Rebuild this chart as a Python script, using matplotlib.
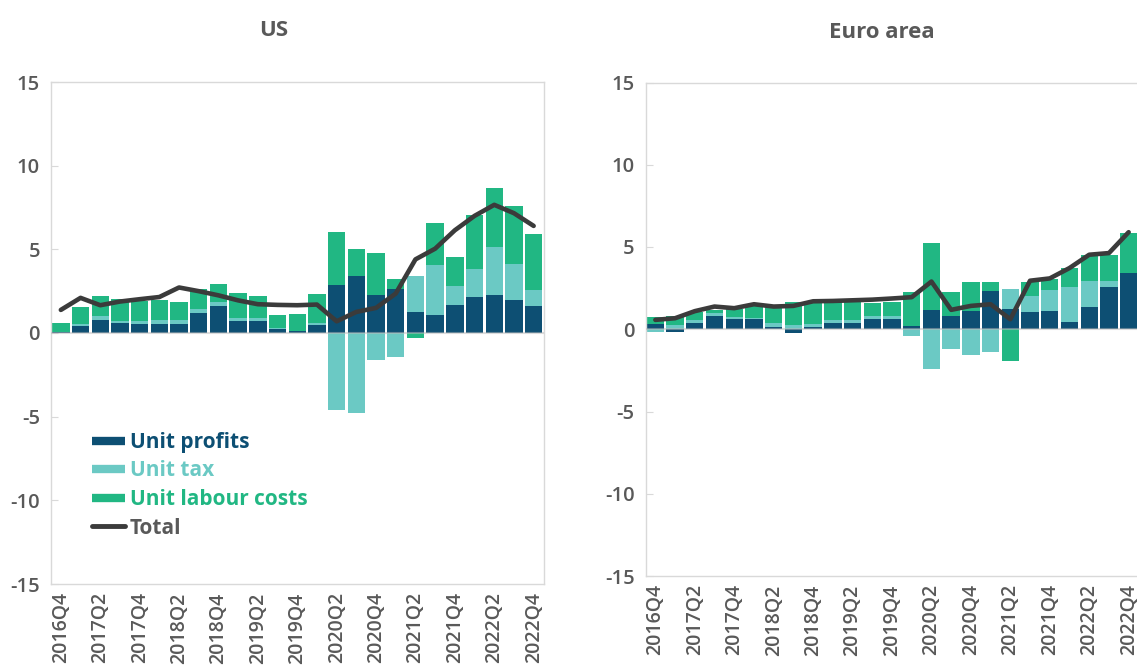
import matplotlib
matplotlib.use("Agg")
import matplotlib.pyplot as plt
import numpy as np
from matplotlib.lines import Line2D

plt.rcParams['font.family'] = ['Open Sans', 'DejaVu Sans']

quarters = ["2016Q4", "2017Q1", "2017Q2", "2017Q3", "2017Q4",
            "2018Q1", "2018Q2", "2018Q3", "2018Q4",
            "2019Q1", "2019Q2", "2019Q3", "2019Q4",
            "2020Q1", "2020Q2", "2020Q3", "2020Q4",
            "2021Q1", "2021Q2", "2021Q3", "2021Q4",
            "2022Q1", "2022Q2", "2022Q3", "2022Q4"]

us_profits = [0.03, 0.40, 0.80, 0.62, 0.54, 0.54, 0.54, 1.18, 1.60, 0.70, 0.70, 0.22, 0.10,
              0.46, 2.88, 3.40, 2.28, 2.60, 1.28, 1.06, 1.68, 2.18, 2.28, 1.96, 1.62]
us_tax = [0.05, 0.12, 0.20, 0.12, 0.18, 0.22, 0.22, 0.26, 0.24, 0.18, 0.20, 0.08, 0.04,
          0.16, -4.58, -4.78, -1.62, -1.44, 2.12, 3.02, 1.12, 1.62, 2.86, 2.16, 0.94]
us_ulc = [0.52, 1.02, 1.20, 1.32, 1.22, 1.24, 1.10, 1.16, 1.06, 1.52, 1.30, 0.80, 1.00,
          1.72, 3.14, 1.62, 2.48, 0.64, -0.30, 2.48, 1.72, 3.28, 3.52, 3.46, 3.34]
us_total = [1.38, 2.10, 1.66, 1.88, 2.02, 2.15, 2.72, 2.50, 2.25, 1.95, 1.72, 1.68, 1.66,
            1.70, 0.70, 1.26, 1.50, 2.36, 4.40, 5.04, 6.14, 7.00, 7.66, 7.16, 6.40]

ea_profits = [0.30, -0.16, 0.41, 0.79, 0.63, 0.61, 0.12, -0.24, 0.12, 0.37, 0.41, 0.63, 0.63,
              0.20, 1.20, 0.83, 1.12, 2.32, 1.22, 1.06, 1.08, 0.47, 1.38, 2.58, 3.39]
ea_tax = [-0.18, 0.26, 0.16, 0.17, 0.14, 0.10, 0.25, 0.26, 0.21, 0.18, 0.16, 0.20, 0.20,
          -0.39, -2.42, -1.18, -1.54, -1.36, 1.24, 0.97, 1.28, 2.11, 1.57, 0.33, 0.00]
ea_ulc = [0.43, 0.53, 0.45, 0.22, 0.45, 0.77, 1.01, 1.39, 1.36, 1.14, 1.12, 0.76, 0.82,
          2.06, 4.04, 1.41, 1.75, 0.57, -1.93, 0.86, 0.69, 1.16, 1.56, 1.62, 2.44]
ea_total = [0.57, 0.67, 1.10, 1.38, 1.28, 1.52, 1.38, 1.42, 1.70, 1.72, 1.76, 1.80, 1.87,
            1.95, 2.90, 1.18, 1.42, 1.52, 0.61, 2.95, 3.09, 3.72, 4.53, 4.63, 5.90]

series_names = ["Unit profits", "Unit tax", "Unit labour costs"]
colors = ["#0d4f73", "#6bc9c4", "#21b783"]
line_color = "#3b3b3b"
text_color = "#595959"
frame_color = "#d9d9d9"

W, H = 1137, 666
fig = plt.figure(figsize=(W / 100, H / 100), dpi=100)

def px_axes(l, r, t, b):
    return fig.add_axes([l / W, 1 - b / H, (r - l) / W, (b - t) / H])

ax_us = px_axes(51, 543.5, 82, 584)
ax_ea = px_axes(645.5, 1138.5, 82.5, 576)

def draw(ax, comps, total):
    x = np.arange(len(quarters))
    pos_base = np.zeros(len(x))
    neg_base = np.zeros(len(x))
    for vals, c in zip(comps, colors):
        v = np.array(vals, dtype=float)
        pos = np.where(v > 0, v, 0)
        neg = np.where(v < 0, v, 0)
        ax.bar(x, pos, bottom=pos_base, width=0.88, color=c, zorder=2, linewidth=0)
        ax.bar(x, neg, bottom=neg_base, width=0.88, color=c, zorder=2, linewidth=0)
        pos_base += pos
        neg_base += neg
    ax.axhline(0, color="#bbbbbb", lw=1.5, alpha=0.5, zorder=3)
    ax.plot(x, total, color=line_color, lw=3.3, zorder=4, solid_capstyle='round')
    ax.set_xlim(-0.5, len(x) - 0.5)
    ax.set_ylim(-15, 15)
    ax.set_yticks([-15, -10, -5, 0, 5, 10, 15])
    ax.set_yticklabels([str(v) for v in [-15, -10, -5, 0, 5, 10, 15]])
    ax.set_xticks(x[::2])
    ax.set_xticklabels(quarters[::2], rotation=90)
    ax.tick_params(axis='y', direction='in', length=5, width=0.8, color=frame_color,
                   labelsize=14.5, labelcolor=text_color, pad=8)
    ax.tick_params(axis='x', length=0, labelsize=14, labelcolor=text_color, pad=6)
    for lab in ax.get_yticklabels() + ax.get_xticklabels():
        lab.set_fontweight('semibold')
    for s in ax.spines.values():
        s.set_color(frame_color)
        s.set_linewidth(1.0)

draw(ax_us, [us_profits, us_tax, us_ulc], us_total)
draw(ax_ea, [ea_profits, ea_tax, ea_ulc], ea_total)

fig.text(274 / W, 1 - 30 / H, "US", ha='center', va='center', fontsize=16,
         fontweight='bold', color=text_color)
fig.text(882 / W, 1 - 32 / H, "Euro area", ha='center', va='center', fontsize=16,
         fontweight='bold', color=text_color)

handles = [Line2D([0], [0], color=c, lw=6, solid_capstyle='butt') for c in colors]
handles.append(Line2D([0], [0], color=line_color, lw=3.5, solid_capstyle='round'))
labels = series_names + ["Total"]
leg = ax_us.legend(handles, labels, loc='upper left',
                   bbox_to_anchor=((92 - 51) / 492.5, (584 - 432) / 502),
                   frameon=False, handlelength=1.6, handletextpad=0.2,
                   labelspacing=0.36, borderpad=0, borderaxespad=0,
                   labelcolor=colors + [text_color],
                   prop={'weight': 'bold', 'size': 15})

fig.savefig("out.png", dpi=100)
